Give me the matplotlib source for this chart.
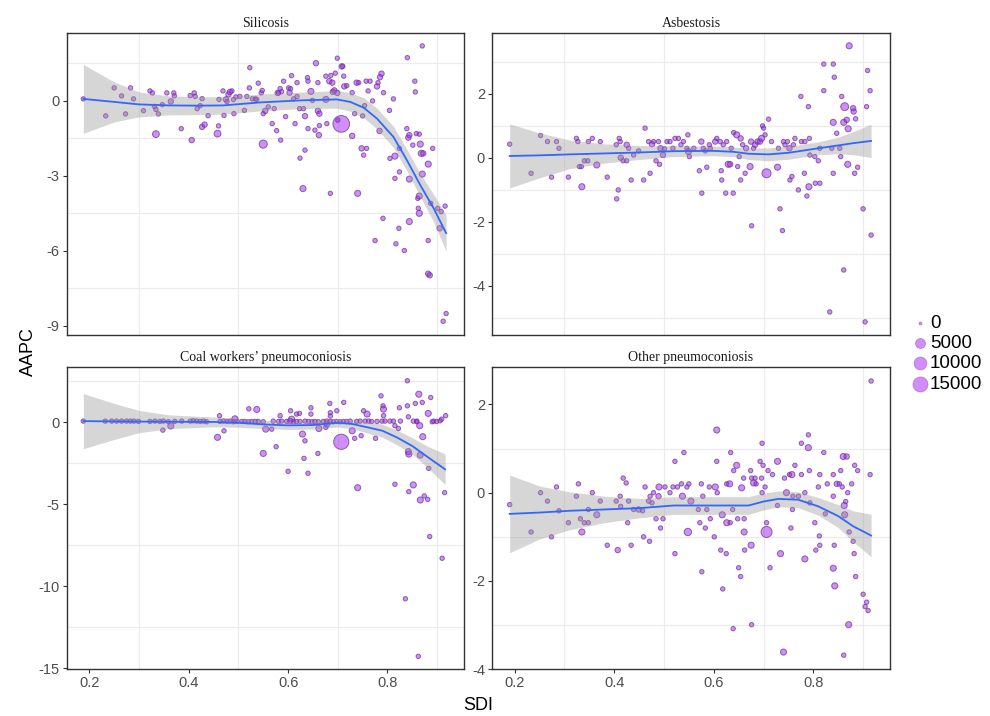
import numpy as np
import matplotlib
matplotlib.use("Agg")
import matplotlib.pyplot as plt

# (SDI, AAPC, cases), one array per disease
silicosis_pts = [
    (0.188, 0.07, 200), (0.233, -0.61, 200), (0.250, 0.51, 200), (0.265, 0.19, 200), (0.273, -0.53, 200),
    (0.283, 0.51, 200), (0.289, 0.07, 200), (0.309, -0.40, 200), (0.322, 0.39, 200), (0.327, 0.31, 200),
    (0.331, -0.23, 200), (0.334, -0.35, 200), (0.334, -1.34, 1500), (0.339, -0.53, 200), (0.347, -0.16, 200),
    (0.356, 0.31, 200), (0.364, -0.03, 600), (0.370, 0.31, 200), (0.371, 0.19, 200), (0.385, -1.12, 200),
    (0.403, 0.20, 200), (0.406, -1.58, 600), (0.411, 0.31, 200), (0.413, 0.17, 200), (0.417, -0.32, 200),
    (0.423, -0.20, 200), (0.427, 0.08, 200), (0.427, -1.05, 600), (0.432, -0.96, 600), (0.439, -0.60, 200),
    (0.458, -1.32, 1500), (0.460, -1.01, 200), (0.461, 0.05, 200), (0.469, 0.39, 200), (0.471, -0.59, 200),
    (0.475, 0.05, 600), (0.477, -0.04, 200), (0.480, 0.25, 600), (0.483, 0.35, 600), (0.487, 0.39, 200),
    (0.490, 0.04, 200), (0.491, -0.52, 200), (0.495, 0.15, 200), (0.503, 0.17, 200), (0.512, -0.39, 200),
    (0.517, 0.17, 200), (0.522, 0.51, 200), (0.523, 1.32, 200), (0.528, 0.07, 200), (0.534, 0.07, 200),
    (0.537, 0.05, 200), (0.540, 0.70, 200), (0.546, 0.31, 200), (0.548, 0.41, 200), (0.550, -1.74, 2700),
    (0.550, -0.52, 200), (0.554, -0.41, 600), (0.560, -0.25, 200), (0.568, -0.92, 200), (0.572, -0.32, 200),
    (0.577, -1.20, 200), (0.579, 0.31, 600), (0.581, 0.31, 200), (0.584, 0.48, 200), (0.585, -1.58, 200),
    (0.587, 0.36, 200), (0.591, 0.78, 200), (0.595, -0.64, 200), (0.601, 0.51, 200), (0.603, 0.32, 600),
    (0.605, 0.48, 200), (0.607, 1.00, 200), (0.611, 0.07, 200), (0.614, -0.92, 200), (0.618, 0.72, 200),
    (0.618, 0.17, 200), (0.623, -0.32, 200), (0.624, -2.30, 200), (0.630, -3.52, 1000), (0.631, -0.32, 200),
    (0.634, -0.62, 600), (0.634, -1.98, 200), (0.639, 0.92, 200), (0.640, -1.12, 200), (0.640, 0.78, 200),
    (0.646, 0.37, 1000), (0.649, 0.01, 200), (0.654, -1.18, 200), (0.656, 1.50, 600), (0.660, 0.72, 200),
    (0.660, -0.41, 600), (0.663, -0.52, 600), (0.663, -1.00, 200), (0.662, -1.38, 600), (0.676, 0.98, 200),
    (0.676, 0.05, 1000), (0.678, -0.92, 200), (0.683, 0.78, 600), (0.685, -3.71, 200), (0.686, 1.01, 200),
    (0.689, 0.72, 600), (0.690, 0.35, 600), (0.693, 0.41, 600), (0.695, 1.10, 200), (0.699, 1.70, 200),
    (0.699, 0.31, 600), (0.700, -0.78, 200), (0.707, -0.93, 19500), (0.708, 1.37, 600), (0.710, 1.38, 200),
    (0.712, 0.98, 200), (0.713, 0.57, 600), (0.718, 0.60, 200), (0.729, -1.41, 600), (0.729, 0.32, 200),
    (0.734, -0.52, 200), (0.738, 0.72, 600), (0.740, -3.71, 1000), (0.742, 0.72, 200), (0.748, -1.91, 600),
    (0.750, -0.61, 200), (0.752, -2.18, 200), (0.754, -0.20, 200), (0.757, 0.78, 200), (0.758, -1.91, 200),
    (0.761, 0.39, 200), (0.765, 0.78, 200), (0.770, -0.01, 200), (0.775, -5.60, 200), (0.779, 0.57, 600),
    (0.781, 0.72, 200), (0.784, -1.21, 600), (0.785, 0.94, 600), (0.788, 1.08, 600), (0.791, -4.71, 200),
    (0.792, 0.32, 200), (0.804, -0.39, 200), (0.805, -2.31, 200), (0.812, 0.07, 200), (0.815, -2.22, 1000),
    (0.815, -3.11, 200), (0.817, -5.73, 200), (0.823, -5.11, 200), (0.824, -2.85, 200), (0.824, -1.91, 200),
    (0.834, -6.00, 200), (0.839, -1.12, 200), (0.840, 1.72, 200), (0.842, -1.48, 600), (0.844, -1.38, 600),
    (0.844, -3.14, 1000), (0.844, -4.84, 1000), (0.851, -1.78, 200), (0.855, 0.78, 200), (0.856, 0.35, 200),
    (0.858, -1.32, 200), (0.861, -3.91, 200), (0.862, -4.31, 200), (0.864, -3.82, 1000), (0.864, -4.51, 1000),
    (0.864, -1.34, 200), (0.866, -1.74, 1000), (0.868, -2.11, 1000), (0.872, -2.11, 600), (0.870, 2.19, 200),
    (0.870, -2.94, 1000), (0.882, -2.54, 1000), (0.882, -5.60, 200), (0.882, -6.93, 600), (0.885, -6.99, 600),
    (0.887, -4.11, 200), (0.891, -1.91, 200), (0.901, -4.31, 200), (0.905, -5.11, 600), (0.908, -4.44, 200),
    (0.912, -8.83, 200), (0.916, -4.22, 200), (0.918, -8.52, 200),
]

asbestosis_pts = [
    (0.190, 0.42, 200), (0.233, -0.49, 200), (0.252, 0.69, 200), (0.266, 0.50, 200), (0.274, -0.61, 200),
    (0.284, 0.50, 200), (0.289, 0.29, 200), (0.308, -0.61, 200), (0.324, 0.60, 200), (0.327, 0.50, 200),
    (0.330, -0.28, 200), (0.334, -0.28, 200), (0.335, -0.91, 1000), (0.340, -0.10, 200), (0.347, -0.10, 200),
    (0.348, 0.50, 200), (0.356, 0.60, 200), (0.365, -0.23, 1000), (0.372, 0.50, 200), (0.386, -0.61, 200),
    (0.404, 0.40, 200), (0.405, -1.29, 200), (0.408, -1.01, 200), (0.410, 0.60, 200), (0.412, 0.50, 200),
    (0.413, 0.00, 600), (0.418, -0.10, 200), (0.425, 0.40, 600), (0.425, -0.10, 200), (0.429, 0.29, 200),
    (0.434, -0.70, 200), (0.439, 0.08, 200), (0.449, 0.21, 200), (0.459, -0.70, 200), (0.462, 0.92, 200),
    (0.469, 0.50, 200), (0.472, -0.49, 200), (0.476, 0.42, 600), (0.479, 0.50, 200), (0.484, -0.10, 200),
    (0.489, 0.50, 200), (0.491, -0.21, 200), (0.493, 0.29, 600), (0.498, 0.08, 600), (0.501, 0.27, 200),
    (0.506, 0.50, 200), (0.512, 0.50, 200), (0.518, 0.29, 200), (0.522, 0.60, 200), (0.529, 0.60, 200),
    (0.534, 0.40, 200), (0.539, 0.50, 200), (0.546, 0.29, 200), (0.548, 0.71, 200), (0.549, 0.19, 1000),
    (0.551, 0.03, 200), (0.560, 0.29, 200), (0.571, -0.41, 200), (0.575, 0.50, 600), (0.576, -1.11, 200),
    (0.579, 0.29, 200), (0.583, 0.21, 200), (0.586, -0.30, 200), (0.591, 0.40, 200), (0.593, 0.29, 200),
    (0.603, 0.50, 600), (0.606, 0.60, 200), (0.613, 0.50, 200), (0.615, -0.41, 200), (0.616, -0.70, 200),
    (0.619, 0.40, 200), (0.624, -1.11, 200), (0.626, 0.50, 200), (0.629, -0.21, 1000), (0.633, -0.21, 600),
    (0.635, 0.29, 200), (0.639, -1.11, 200), (0.640, 0.78, 200), (0.646, 0.71, 1000), (0.648, -0.28, 200),
    (0.651, 0.03, 200), (0.654, 0.60, 600), (0.654, -0.70, 200), (0.658, 0.40, 200), (0.663, -0.49, 200),
    (0.665, 0.29, 600), (0.673, -0.28, 1000), (0.675, 0.50, 600), (0.676, -2.13, 200), (0.680, 0.29, 200),
    (0.683, 0.40, 600), (0.688, 0.50, 600), (0.693, 0.50, 600), (0.696, 0.60, 1000), (0.698, 0.99, 200),
    (0.700, 0.92, 200), (0.703, 0.71, 200), (0.706, -0.49, 3800), (0.710, 1.20, 200), (0.716, 0.50, 200),
    (0.728, -0.30, 1000), (0.730, 0.29, 200), (0.733, -1.60, 200), (0.738, -2.28, 200), (0.740, 0.50, 200),
    (0.743, 0.40, 200), (0.748, 0.50, 200), (0.752, 0.29, 600), (0.753, -0.70, 200), (0.757, -0.59, 200),
    (0.760, 0.40, 200), (0.763, 0.60, 200), (0.770, -1.01, 200), (0.775, 1.91, 200), (0.776, 0.50, 200),
    (0.782, -0.49, 200), (0.783, 0.50, 200), (0.787, -1.20, 200), (0.790, 1.59, 200), (0.791, -0.91, 1000),
    (0.792, 0.60, 200), (0.793, 0.08, 200), (0.803, 0.03, 200), (0.804, -0.80, 200), (0.810, -0.10, 200),
    (0.813, -0.80, 200), (0.813, 0.29, 200), (0.821, 2.09, 200), (0.821, 2.92, 200), (0.833, -4.82, 200),
    (0.837, 0.29, 200), (0.840, 2.92, 200), (0.840, 1.10, 1000), (0.840, -0.49, 200), (0.842, 2.51, 200),
    (0.847, 0.76, 200), (0.853, 0.29, 200), (0.855, 0.03, 200), (0.857, 1.91, 200), (0.861, -3.51, 200),
    (0.861, 1.10, 1000), (0.863, 1.59, 2500), (0.867, 1.18, 600), (0.869, -0.21, 1000), (0.870, 0.90, 1000),
    (0.872, 3.49, 1000), (0.880, 1.54, 600), (0.881, 1.44, 600), (0.883, -0.49, 200), (0.885, 1.21, 200),
    (0.889, -0.30, 200), (0.900, -1.60, 200), (0.904, -5.13, 200), (0.907, 1.59, 200), (0.909, 2.72, 200),
    (0.914, 2.09, 200), (0.916, -2.42, 200),
]

coal_pts = [
    (0.188, 0.08, 200), (0.232, 0.08, 200), (0.245, 0.08, 200), (0.255, 0.08, 200), (0.265, 0.08, 200),
    (0.275, 0.08, 200), (0.283, 0.08, 200), (0.290, 0.08, 200), (0.299, 0.06, 200), (0.322, 0.06, 200),
    (0.332, 0.08, 200), (0.342, 0.06, 200), (0.349, 0.08, 200), (0.359, 0.04, 200), (0.372, 0.06, 200),
    (0.386, 0.08, 200), (0.403, 0.08, 200), (0.409, 0.10, 200), (0.416, 0.08, 200), (0.423, 0.06, 200),
    (0.430, 0.08, 200), (0.436, 0.04, 200), (0.463, 0.06, 200), (0.470, 0.08, 200), (0.477, 0.06, 200),
    (0.483, 0.08, 200), (0.490, 0.04, 200), (0.497, 0.06, 200), (0.507, 0.06, 200), (0.513, 0.06, 200),
    (0.520, 0.04, 200), (0.527, 0.06, 200), (0.534, 0.06, 200), (0.540, 0.06, 200), (0.550, 0.04, 200),
    (0.570, 0.08, 200), (0.581, 0.06, 200), (0.587, 0.08, 200), (0.597, 0.06, 200), (0.604, 0.08, 600),
    (0.611, 0.04, 200), (0.617, 0.06, 200), (0.624, 0.06, 200), (0.634, 0.08, 200), (0.641, 0.06, 200),
    (0.648, 0.04, 200), (0.654, 0.06, 200), (0.661, 0.04, 200), (0.671, 0.06, 200), (0.678, 0.08, 200),
    (0.685, 0.06, 200), (0.691, 0.04, 200), (0.698, 0.06, 200), (0.705, 0.04, 200), (0.711, 0.06, 200),
    (0.718, 0.06, 200), (0.725, 0.08, 200), (0.738, 0.06, 200), (0.745, 0.08, 200), (0.755, 0.08, 200),
    (0.762, 0.08, 200), (0.768, 0.06, 200), (0.779, 0.06, 200), (0.789, 0.08, 200), (0.795, 0.08, 200),
    (0.805, 0.08, 200), (0.812, 0.08, 200), (0.826, 0.08, 200), (0.852, 0.08, 200), (0.859, 0.08, 200),
    (0.893, 0.08, 200), (0.899, 0.06, 200), (0.906, 0.10, 200), (0.909, 0.20, 200),
    (0.348, -0.47, 200), (0.364, -0.22, 1000), (0.458, -0.91, 1000), (0.462, 0.41, 200), (0.471, -0.51, 200),
    (0.493, 0.22, 1000), (0.521, 0.83, 200), (0.537, 0.79, 1000), (0.550, -1.89, 1000), (0.555, -0.41, 1000),
    (0.567, -0.41, 200), (0.576, -1.48, 200), (0.584, 0.41, 200), (0.600, -2.98, 200), (0.605, 0.71, 200),
    (0.607, 0.20, 1000), (0.617, 0.51, 200), (0.623, 0.55, 200), (0.629, -0.71, 1000), (0.632, -2.19, 200),
    (0.634, -1.12, 200), (0.640, -3.10, 200), (0.646, 0.89, 200), (0.646, 0.51, 200), (0.660, -1.89, 200),
    (0.662, -0.37, 1000), (0.676, -0.30, 200), (0.678, -0.10, 1000), (0.684, 1.16, 200), (0.685, 0.59, 200),
    (0.685, 0.39, 200), (0.698, 0.71, 200), (0.707, -1.18, 15500), (0.712, 1.22, 200), (0.729, -0.51, 1000),
    (0.734, -0.97, 200), (0.740, -3.98, 1000), (0.747, -0.81, 200), (0.752, 0.71, 200), (0.759, 0.51, 1000),
    (0.776, -0.97, 200), (0.787, 1.62, 200), (0.791, 1.01, 200), (0.792, 0.81, 1000), (0.792, 0.41, 200),
    (0.815, -3.77, 200), (0.815, -0.20, 200), (0.822, -0.37, 200), (0.824, 0.89, 200), (0.836, -10.75, 200),
    (0.840, 2.54, 200), (0.840, 1.01, 200), (0.842, 0.34, 200), (0.842, -1.78, 1000), (0.843, -1.93, 1000),
    (0.843, -4.22, 200), (0.852, -3.81, 1000), (0.856, 1.16, 200), (0.859, 0.04, 200), (0.862, -14.26, 200),
    (0.863, 1.72, 1000), (0.865, -0.20, 1000), (0.866, -4.73, 1000), (0.866, -1.99, 1000), (0.870, 1.22, 200),
    (0.871, -0.87, 1000), (0.874, -4.48, 200), (0.881, -4.69, 200), (0.882, 0.55, 1000), (0.883, -2.80, 200),
    (0.885, -6.96, 200), (0.887, 1.52, 200), (0.890, 0.04, 200), (0.910, -8.28, 200), (0.915, -4.28, 200),
    (0.917, 0.41, 200),
]

other_pts = [
    (0.190, -0.27, 200), (0.233, -0.89, 200), (0.252, 0.00, 200), (0.266, -0.19, 200), (0.274, -1.00, 200),
    (0.284, 0.13, 200), (0.289, -0.41, 200), (0.308, -0.68, 200), (0.324, -0.08, 200), (0.328, 0.20, 200),
    (0.332, -0.59, 200), (0.335, -0.89, 1000), (0.340, -0.68, 200), (0.348, -0.68, 200), (0.348, -0.38, 200),
    (0.356, 0.00, 200), (0.365, -0.50, 1000), (0.372, -0.19, 200), (0.386, -1.19, 200), (0.404, -0.19, 200),
    (0.407, -1.30, 600), (0.412, -0.08, 200), (0.413, -0.31, 200), (0.418, 0.33, 200), (0.424, 0.22, 200),
    (0.427, -0.68, 200), (0.429, -0.19, 200), (0.434, -1.19, 200), (0.439, -0.38, 200), (0.449, -0.38, 600),
    (0.457, -0.41, 200), (0.459, -1.00, 200), (0.462, 0.13, 200), (0.469, -0.19, 200), (0.471, -1.10, 200),
    (0.472, -0.08, 200), (0.476, -0.23, 200), (0.479, 0.00, 200), (0.484, -0.59, 200), (0.489, -0.08, 600),
    (0.490, 0.13, 1000), (0.493, -0.80, 200), (0.498, -0.59, 200), (0.502, 0.13, 200), (0.512, 0.00, 200),
    (0.518, 0.13, 200), (0.522, -1.38, 200), (0.522, 0.71, 200), (0.527, 0.13, 200), (0.535, 0.20, 200),
    (0.537, -0.08, 1000), (0.540, 0.91, 200), (0.546, 0.13, 200), (0.548, -0.89, 2000), (0.550, 0.20, 200),
    (0.554, -0.19, 1000), (0.569, -0.38, 200), (0.572, -0.68, 200), (0.575, 0.20, 200), (0.576, -1.79, 200),
    (0.578, -0.08, 200), (0.583, -0.80, 200), (0.586, -0.38, 200), (0.591, 0.13, 200), (0.593, -0.59, 200),
    (0.601, -1.00, 200), (0.603, 0.13, 1000), (0.606, 1.42, 1000), (0.606, 0.71, 200), (0.607, 0.00, 200),
    (0.614, -1.30, 200), (0.617, -0.50, 1000), (0.618, -2.18, 200), (0.625, -1.38, 200), (0.626, 0.20, 200),
    (0.626, -0.68, 1000), (0.632, 0.20, 1000), (0.633, -0.68, 200), (0.634, 0.91, 200), (0.638, -0.38, 200),
    (0.639, -3.08, 200), (0.640, 0.50, 200), (0.646, 0.62, 1000), (0.650, -1.70, 200), (0.654, -1.90, 200),
    (0.648, -0.59, 200), (0.656, 0.11, 1000), (0.660, 0.33, 200), (0.661, -0.59, 200), (0.661, -0.89, 1000),
    (0.662, -1.30, 200), (0.674, 0.50, 200), (0.675, -1.19, 1000), (0.676, -2.99, 200), (0.676, 0.33, 200),
    (0.680, 0.22, 1000), (0.683, 0.33, 200), (0.685, 0.20, 200), (0.693, 0.71, 200), (0.696, 0.33, 200),
    (0.697, 0.00, 200), (0.697, 1.12, 200), (0.699, 0.62, 200), (0.703, 0.13, 200), (0.706, -0.89, 6700),
    (0.706, -0.68, 200), (0.709, 0.50, 200), (0.713, -1.70, 200), (0.718, 0.41, 200), (0.728, 0.71, 1000),
    (0.728, -0.29, 200), (0.734, -1.38, 1000), (0.740, -3.61, 1000), (0.742, 0.33, 200), (0.746, 0.00, 1000),
    (0.752, 0.41, 200), (0.755, -0.80, 200), (0.757, 0.41, 1000), (0.758, -0.38, 200), (0.759, -0.08, 200),
    (0.763, 0.62, 200), (0.770, -0.08, 200), (0.776, 0.41, 200), (0.776, 1.12, 200), (0.783, -1.50, 1000),
    (0.783, 0.00, 200), (0.790, 1.02, 1000), (0.790, 1.31, 200), (0.792, 0.50, 200), (0.793, -0.23, 200),
    (0.803, -0.68, 200), (0.805, -1.30, 200), (0.810, 0.13, 200), (0.812, -0.98, 200), (0.813, 0.41, 200),
    (0.813, -1.19, 200), (0.821, 0.91, 200), (0.824, -0.48, 200), (0.828, 0.20, 200), (0.840, -0.08, 200),
    (0.840, 0.41, 200), (0.840, -1.71, 1000), (0.842, -1.19, 200), (0.843, -2.11, 1000), (0.847, 0.20, 600),
    (0.852, 0.20, 200), (0.855, 0.50, 200), (0.858, 0.13, 200), (0.860, 0.82, 1000), (0.861, -3.68, 200),
    (0.862, -0.29, 1000), (0.863, -0.50, 1000), (0.865, -0.20, 200), (0.867, 0.82, 600), (0.869, 0.00, 200),
    (0.871, -2.99, 1000), (0.872, -0.89, 200), (0.877, 0.20, 200), (0.880, -1.10, 200), (0.882, -1.38, 200),
    (0.883, 0.62, 200), (0.885, -1.90, 200), (0.889, 0.50, 200), (0.900, -2.30, 200), (0.904, -2.58, 200),
    (0.907, -2.48, 200), (0.910, -2.67, 200), (0.914, 0.41, 200), (0.916, 2.53, 200),
]

# loess fit: (SDI, fit, half width of band)
silicosis_fit = [
    (0.188, 0.07, 1.38), (0.25, -0.05, 0.80), (0.30, -0.15, 0.50), (0.36, -0.19, 0.38), (0.42, -0.20, 0.36),
    (0.47, -0.19, 0.35), (0.544, -0.07, 0.34), (0.624, 0.01, 0.33), (0.698, 0.05, 0.35), (0.725, -0.05, 0.37),
    (0.752, -0.28, 0.40), (0.779, -0.72, 0.42), (0.812, -1.45, 0.42), (0.839, -2.38, 0.43), (0.866, -3.38, 0.46),
    (0.893, -4.31, 0.55), (0.918, -5.30, 0.72),
]
asbestosis_fit = [
    (0.19, 0.05, 1.0), (0.25, 0.07, 0.70), (0.31, 0.10, 0.45), (0.38, 0.13, 0.30), (0.45, 0.16, 0.22),
    (0.52, 0.20, 0.17), (0.60, 0.21, 0.15), (0.64, 0.18, 0.15), (0.67, 0.12, 0.18), (0.71, 0.10, 0.20),
    (0.75, 0.15, 0.20), (0.81, 0.29, 0.20), (0.85, 0.38, 0.26), (0.88, 0.45, 0.36), (0.916, 0.52, 0.52),
]
coal_fit = [
    (0.188, 0.08, 1.68), (0.25, 0.06, 1.10), (0.30, 0.05, 0.68), (0.36, 0.04, 0.42), (0.45, 0.03, 0.30),
    (0.50, -0.02, 0.27), (0.55, -0.12, 0.25), (0.60, -0.18, 0.25), (0.65, -0.16, 0.25), (0.70, -0.02, 0.26),
    (0.73, -0.10, 0.30), (0.76, -0.30, 0.35), (0.79, -0.51, 0.40), (0.82, -0.93, 0.45), (0.85, -1.44, 0.50),
    (0.88, -2.09, 0.65), (0.916, -2.86, 0.93),
]
other_fit = [
    (0.19, -0.48, 0.88), (0.25, -0.45, 0.60), (0.31, -0.41, 0.43), (0.38, -0.38, 0.30), (0.45, -0.35, 0.22),
    (0.52, -0.29, 0.20), (0.60, -0.29, 0.20), (0.67, -0.29, 0.20), (0.70, -0.20, 0.19), (0.73, -0.14, 0.18),
    (0.77, -0.16, 0.18), (0.81, -0.31, 0.20), (0.85, -0.53, 0.26), (0.88, -0.76, 0.35), (0.916, -0.97, 0.48),
]

titles = ["Silicosis", "Asbestosis", "Coal workers\u2019 pneumoconiosis", "Other pneumoconiosis"]
y_ticks = [[0, -3, -6, -9], [2, 0, -2, -4], [0, -5, -10, -15], [2, 0, -2, -4]]
y_minor = [[1.5, -1.5, -4.5, -7.5], [3, 1, -1, -3, -5], [2.5, -2.5, -7.5, -12.5], [1, -1, -3]]
y_lims = [(-9.38, 2.72), (-5.54, 3.9), (-15.05, 3.36), (-4.0, 2.84)]
x_ticks = [0.2, 0.4, 0.6, 0.8]
x_minor = [0.3, 0.5, 0.7, 0.9]
legend_cases = [0, 5000, 10000, 15000]

W, H = 990, 716
fig = plt.figure(figsize=(W / 100, H / 100), dpi=100)
boxes = [(66.7, 32.7, 464, 335), (492, 32.7, 890, 335),
         (66.7, 367.3, 464, 669.3), (492, 367.3, 890, 669.3)]

purple_face = (0.627, 0.125, 0.941, 0.5)
purple_edge = (0.42, 0.22, 0.58, 0.75)


def dot_size(c):
    d_px = 3 + 12 * np.sqrt(np.asarray(c, float) / 15000)
    return (d_px * 0.72) ** 2


sans = "Liberation Sans"
serif = "Liberation Serif"

for i, (pts, fit) in enumerate(zip([silicosis_pts, asbestosis_pts, coal_pts, other_pts],
                                   [silicosis_fit, asbestosis_fit, coal_fit, other_fit])):
    l, t, r, b = boxes[i]
    ax = fig.add_axes([l / W, 1 - b / H, (r - l) / W, (b - t) / H])
    x, y, c = np.array(pts).T
    fx, fy, fse = np.array(fit).T

    for v in x_minor:
        ax.axvline(v, color="#EBEBEB", lw=0.8, zorder=0)
    for v in y_minor[i]:
        ax.axhline(v, color="#EBEBEB", lw=0.8, zorder=0)

    ax.scatter(x, y, s=dot_size(c), facecolor=purple_face, edgecolor=purple_edge,
               linewidths=0.7, zorder=2)
    ax.fill_between(fx, fy - fse, fy + fse, color=(0.6, 0.6, 0.6, 0.4), lw=0, zorder=3)
    ax.plot(fx, fy, color="#3366FF", lw=1.3, zorder=4)

    ax.set_xlim(0.1545, 0.954)
    ax.set_ylim(*y_lims[i])
    ax.set_xticks(x_ticks)
    ax.set_yticks(y_ticks[i])
    ax.set_yticklabels([str(v) for v in y_ticks[i]], fontfamily=sans, fontsize=10.5, color="#4D4D4D")
    if i < 2:
        ax.tick_params(axis="x", length=0, labelbottom=False)
    else:
        ax.set_xticklabels([str(v) for v in x_ticks], fontfamily=sans, fontsize=10.5, color="#4D4D4D")
        ax.tick_params(axis="x", length=3, color="#333333", width=0.8, pad=2)
    ax.tick_params(axis="y", length=3, color="#333333", width=0.8, pad=2)
    for sp in ax.spines.values():
        sp.set_color("#333333")
        sp.set_linewidth(1.0)
    ax.text(0.5, 1.01, titles[i], transform=ax.transAxes, ha="center", va="bottom",
            fontfamily=serif, fontsize=10, color="#1A1A1A")

fig.text(28 / W, 1 - 352 / H, "AAPC", rotation=90, ha="center", va="center",
         fontfamily=sans, fontsize=13)
fig.text(478 / W, 1 - 705 / H, "SDI", ha="center", va="center", fontfamily=sans, fontsize=13)

handles = [plt.scatter([], [], s=dot_size(v), facecolor=purple_face, edgecolor=(0.63, 0.3, 0.85, 0.6),
                       linewidths=0.6) for v in legend_cases]
fig.legend(handles, [str(v) for v in legend_cases], loc="center left",
           bbox_to_anchor=(912 / W, 1 - 353.5 / H), frameon=False, handletextpad=0.1,
           labelspacing=0.17, borderpad=0, borderaxespad=0, handlelength=0.85,
           prop={"family": sans, "size": 13.5})

fig.savefig("out.png", dpi=100)
